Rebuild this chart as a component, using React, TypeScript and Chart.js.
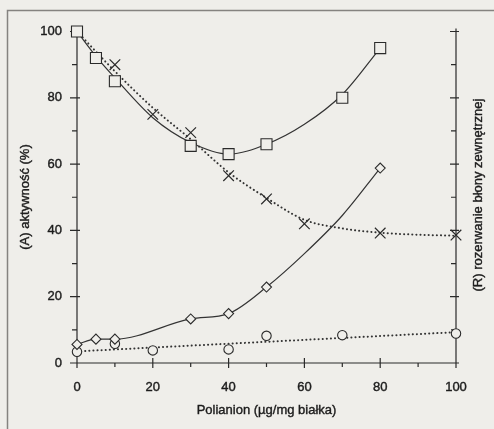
import React, { useEffect, useRef } from "react";
import { Chart, registerables } from "chart.js";

Chart.register(...registerables);

// Activity (squares) measured points and fitted solid curve
const squareX = [0, 5, 10, 30, 40, 50, 70, 80];
const squareY = [100, 92, 85, 65.5, 63, 66, 80, 95];
const squareFitX = [0, 5, 10, 20, 30, 40, 50, 60, 70, 80];
const squareFitY = [100, 92.5, 86, 74, 66.5, 63, 66, 72, 81, 95];

// Crosses and fitted dotted curve
const crossX = [10, 20, 30, 40, 50, 60, 80, 100];
const crossY = [90, 75, 69.5, 56.5, 49.5, 42, 39.2, 38.6];
const crossFitX = [0, 10, 20, 30, 40, 50, 60, 70, 80, 90, 100];
const crossFitY = [100, 88, 77, 67.5, 57.5, 49.8, 43.2, 40.6, 39.3, 38.7, 38.4];

// Diamonds and solid connecting curve
const diamondX = [0, 5, 10, 30, 40, 50, 80];
const diamondY = [5.6, 7.2, 7.2, 13.3, 14.9, 22.9, 58.8];
const diamondLineX = [0, 5, 10, 30, 40, 50, 60, 70, 80];
const diamondLineY = [5.6, 7.2, 7.2, 13.3, 14.9, 22.9, 33, 44.5, 58.8];

// Circles and dotted linear fit
const circleX = [0, 10, 20, 40, 50, 70, 100];
const circleY = [3.4, 5.8, 3.8, 4.1, 8.2, 8.4, 8.9];
const circleFitX = [0, 100];
const circleFitY = [3.5, 9.3];

const majorTicks = [0, 20, 40, 60, 80, 100];
const minorTicks = [10, 30, 50, 70, 90];

const xTitle = "Polianion (\u00b5g/mg białka)";
const leftTitle = "(A) aktywność (%)";
const rightTitle = "(R) rozerwanie błony zewnętrznej";

const BG = "#efeeea";
const INK = "#2a2a2a";
const TEXT = "#1c1c1c";
const FONT = '13px "Liberation Sans", Arial, sans-serif';

const pts = (xs: number[], ys: number[]) => xs.map((x, i) => ({ x, y: ys[i] }));

function label(ctx: CanvasRenderingContext2D, s: string, x: number, y: number) {
  ctx.fillText(s, x, y);
  ctx.strokeText(s, x, y);
}

const axesPlugin = {
  id: "customAxes",
  beforeDatasetsDraw(chart: any) {
    const ctx = chart.ctx as CanvasRenderingContext2D;
    const xs = chart.scales.x;
    const ys = chart.scales.y;
    const x0 = xs.getPixelForValue(0);
    const x100 = xs.getPixelForValue(100);
    const y0 = ys.getPixelForValue(0);
    const y100 = ys.getPixelForValue(100);
    ctx.save();
    // outer frame (top and left)
    ctx.strokeStyle = "#858380";
    ctx.lineWidth = 1.5;
    ctx.beginPath();
    ctx.moveTo(494, 10.5);
    ctx.lineTo(7.5, 10.5);
    ctx.lineTo(7.5, 429);
    ctx.stroke();

    ctx.strokeStyle = INK;
    ctx.lineWidth = 1.2;
    ctx.beginPath();
    ctx.moveTo(x0, y100);
    ctx.lineTo(x0, y0 + 5);
    ctx.moveTo(x0, y0);
    ctx.lineTo(x100, y0);
    ctx.moveTo(x100, y100 - 3);
    ctx.lineTo(x100, y0 + 4);
    for (const v of majorTicks) {
      const py = ys.getPixelForValue(v);
      ctx.moveTo(x0 - 7, py);
      ctx.lineTo(x0 + 3, py);
      ctx.moveTo(x100 - 6, py);
      ctx.lineTo(x100 + 3, py);
      const px = xs.getPixelForValue(v);
      ctx.moveTo(px, y0 - 5);
      ctx.lineTo(px, y0 + 5);
    }
    for (const v of minorTicks) {
      const py = ys.getPixelForValue(v);
      ctx.moveTo(x0 - 5, py);
      ctx.lineTo(x0, py);
      ctx.moveTo(x100 - 5, py);
      ctx.lineTo(x100, py);
      const px = xs.getPixelForValue(v);
      ctx.moveTo(px, y0);
      ctx.lineTo(px, y0 + 4);
    }
    ctx.stroke();

    ctx.fillStyle = TEXT;
    ctx.strokeStyle = TEXT;
    ctx.lineWidth = 0.4;
    ctx.font = FONT;
    ctx.textAlign = "right";
    ctx.textBaseline = "middle";
    for (const v of majorTicks) {
      label(ctx, String(v), x0 - 15, ys.getPixelForValue(v));
    }
    ctx.textAlign = "center";
    for (const v of majorTicks) {
      label(ctx, String(v), xs.getPixelForValue(v), y0 + 24);
    }
    label(ctx, xTitle, (x0 + x100) / 2, y0 + 47);

    ctx.save();
    ctx.translate(25, 197);
    ctx.rotate(-Math.PI / 2);
    label(ctx, leftTitle, 0, 0);
    ctx.restore();

    ctx.save();
    ctx.translate(478, 195);
    ctx.rotate(-Math.PI / 2);
    label(ctx, rightTitle, 0, 0);
    ctx.restore();

    ctx.restore();
  },
};

export default function App() {
  const ref = useRef<HTMLCanvasElement | null>(null);
  useEffect(() => {
    if (!ref.current) return;
    const lineBase = {
      showLine: true,
      pointRadius: 0,
      borderColor: "#333333",
      cubicInterpolationMode: "monotone" as const,
      clip: false as any,
      order: 2,
    };
    const dotted = { borderWidth: 2, borderDash: [0.1, 4], borderCapStyle: "round" as const };
    const solid = { borderWidth: 1.2 };
    const markerBase = {
      showLine: false,
      borderColor: INK,
      backgroundColor: BG,
      borderWidth: 1.1,
      clip: false as any,
      order: 0,
    };
    const chart = new Chart(ref.current, {
      type: "scatter",
      data: {
        datasets: [
          { ...lineBase, ...solid, label: "fitA", data: pts(squareFitX, squareFitY) },
          { ...lineBase, ...dotted, label: "fitR", data: pts(crossFitX, crossFitY) },
          { ...lineBase, ...solid, label: "lineD", data: pts(diamondLineX, diamondLineY) },
          { ...lineBase, ...dotted, label: "fitC", data: pts(circleFitX, circleFitY) },
          { ...markerBase, label: "squares", pointStyle: "rect", pointRadius: 7.8, data: pts(squareX, squareY) },
          { ...markerBase, label: "crosses", pointStyle: "crossRot", pointRadius: 7.5, borderWidth: 1.2, data: pts(crossX, crossY) },
          { ...markerBase, label: "diamonds", pointStyle: "rectRot", pointRadius: 5, data: pts(diamondX, diamondY) },
          { ...markerBase, label: "circles", pointStyle: "circle", pointRadius: 4.7, data: pts(circleX, circleY) },
        ] as any,
      },
      options: {
        animation: false,
        responsive: true,
        maintainAspectRatio: false,
        events: [],
        layout: { padding: { left: 77, right: 38, top: 31.5, bottom: 66 } },
        plugins: { legend: { display: false }, tooltip: { enabled: false } },
        scales: {
          x: { type: "linear", min: 0, max: 100, display: false },
          y: { type: "linear", min: 0, max: 100, display: false },
        },
      },
      plugins: [axesPlugin],
    });
    return () => chart.destroy();
  }, []);
  return (
    <div
      style={{
        position: "absolute",
        left: 0,
        top: 0,
        width: 494,
        height: 429,
        background: BG,
      }}
    >
      <canvas ref={ref} />
    </div>
  );
}
